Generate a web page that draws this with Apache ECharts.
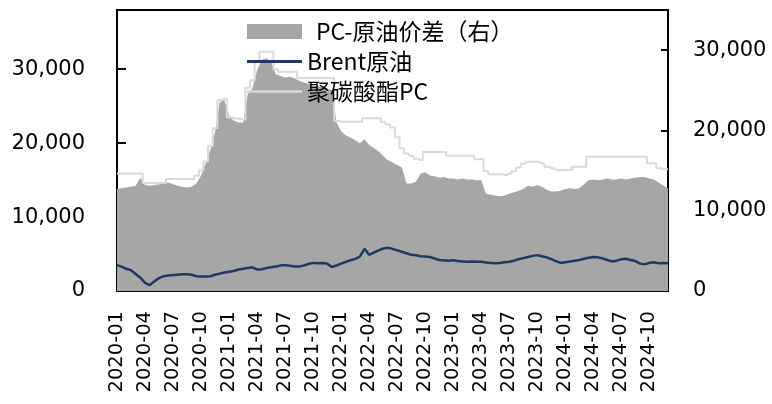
<!DOCTYPE html>
<html>
<head>
<meta charset="utf-8">
<script src="https://cdn.jsdelivr.net/npm/echarts@6/dist/echarts.min.js"></script>
<style>
  html, body { margin: 0; padding: 0; background: #fff; }
  #chart { width: 772px; height: 404px; }
</style>
</head>
<body>
<div id="chart"></div>
<script>
// Half-month sampling dates, 2020-01-01 .. 2024-12-01
const dates = [];
for (let y = 2020; y <= 2024; y++) {
  for (let m = 1; m <= 12; m++) {
    const mm = String(m).padStart(2, '0');
    if (y === 2024 && m === 12) { dates.push('2024-12-01'); break; }
    dates.push(`${y}-${mm}-01`, `${y}-${mm}-16`);
  }
}

// PC price spread over crude, yuan/t (right axis)
const spread = [
  12700,12800,12900,13000,13100,14100,13200,13100,13200,13300,
  13400,13500,13300,13100,12950,12900,13000,13400,14400,15900,
  17600,19800,23500,23800,21800,21200,21000,21000,24500,25300,
  27500,28800,29000,28600,27000,26800,26600,26700,26500,26200,
  26000,25800,25700,25500,25400,25200,25000,21000,19900,19400,
  19100,18800,18400,18900,18200,17800,17400,16800,16300,16000,
  15700,15400,13400,13400,13600,14600,14800,14400,14300,14100,
  14200,14000,14000,13900,14000,13900,13900,13800,13800,12100,
  12000,11900,11800,11900,12100,12300,12500,12700,13100,13000,
  13200,13000,12600,12400,12400,12500,12700,12800,12700,12800,
  13300,13800,13900,13800,13900,14000,13900,13900,14000,13900,
  14000,14100,14200,14200,14000,13900,13500,13100,12800
];

// Brent crude, yuan/t (left axis)
const brent = [
  3500,3300,3000,2800,2300,1800,1100,800,1300,1750,
  2000,2100,2150,2200,2250,2250,2200,2000,1950,1950,
  2000,2200,2350,2500,2600,2700,2900,3000,3100,3200,
  2900,2950,3100,3200,3300,3450,3500,3400,3300,3300,
  3450,3650,3800,3750,3800,3700,3250,3450,3700,3950,
  4150,4350,4650,5700,4900,5200,5500,5750,5850,5700,
  5500,5300,5100,4900,4850,4700,4650,4600,4400,4200,
  4150,4100,4150,4050,4000,3950,4000,3950,3950,3850,
  3800,3750,3800,3900,3950,4100,4300,4450,4600,4750,
  4850,4700,4550,4300,4050,3800,3900,4000,4100,4200,
  4350,4500,4600,4550,4400,4200,4000,4100,4300,4350,
  4200,4050,3700,3600,3800,3900,3750,3800,3750
];

// Polycarbonate (PC) price, yuan/t (left axis)
const pcPrice = [
  15900,15900,15900,15900,15900,15900,14600,14600,14600,14600,
  14600,15150,15150,15150,15150,15150,15150,15600,16300,17500,
  19600,22000,25800,26000,23500,23350,23300,23200,27500,28500,
  31000,32350,32350,32350,30000,29650,29650,29650,29650,28800,
  28800,28800,28800,28800,28800,28800,28800,23000,22900,22900,
  22900,22900,22900,23350,23350,23350,23350,22900,22500,22100,
  20800,19300,18600,18300,17900,17700,18800,18800,18800,18800,
  18800,18300,18300,18300,18300,18300,18300,17800,17800,16200,
  15800,15800,15800,15700,15900,16200,16700,17200,17480,17480,
  17480,17260,16800,16600,16360,16360,16360,16360,16800,16800,
  16800,18160,18160,18160,18160,18160,18160,18160,18160,18160,
  18160,18160,18160,18160,17260,17260,16600,16450,16450
];

const leftTicks = [0, 10000, 20000, 30000];
const rightTicks = [0, 10000, 20000, 30000];

const fmt = v => String(v).replace(/\B(?=(\d{3})+(?!\d))/g, ',');
const quarterTick = i => i % 6 === 0 && i < dates.length - 1;

const axisText = { fontSize: 21, fontFamily: 'DejaVu Sans', color: '#000' };
const blackLine = { color: '#000', width: 2 };

const chart = echarts.init(document.getElementById('chart'));
chart.setOption({
  animation: false,
  backgroundColor: '#fff',
  grid: {
    left: 117, right: 104, top: 10, bottom: 113,
    show: true, borderColor: '#000', borderWidth: 2, backgroundColor: 'transparent'
  },
  legend: {
    orient: 'vertical',
    left: 247, top: 20, padding: 0,
    itemGap: 7, itemWidth: 55, itemHeight: 15, itemTextGap: 5,
    selectedMode: false,
    textStyle: { fontSize: 23, fontFamily: 'Noto Sans CJK SC', color: '#000', lineHeight: 23 },
    data: [
      { name: 'PC-原油价差（右）', icon: 'rect',
        itemStyle: { color: '#A6A6A6', borderWidth: 0 },
        textStyle: { padding: [0, 0, 0, 9] } },
      { name: 'Brent原油', icon: 'path://M0,0H55V3H0Z',
        itemStyle: { color: '#1F3864', borderWidth: 0 } },
      { name: '聚碳酸酯PC', icon: 'path://M0,0H55V2.4H0Z',
        itemStyle: { color: '#D9D9D9', borderWidth: 0 } }
    ]
  },
  xAxis: {
    type: 'category',
    data: dates,
    boundaryGap: false,
    axisLine: { show: true, lineStyle: blackLine },
    axisTick: { show: true, inside: true, length: 7, interval: quarterTick, lineStyle: blackLine },
    axisLabel: {
      interval: quarterTick,
      rotate: 90,
      margin: 20,
      fontSize: 19.5,
      fontFamily: 'DejaVu Sans',
      color: '#000',
      formatter: v => v.slice(0, 7)
    },
    splitLine: { show: false }
  },
  yAxis: [
    {
      type: 'value', min: 0, max: 38000, position: 'left',
      axisLine: { show: true, lineStyle: blackLine },
      axisTick: { show: true, inside: true, length: 9, customValues: leftTicks, lineStyle: blackLine },
      axisLabel: Object.assign({ customValues: leftTicks, formatter: fmt, margin: 32 }, axisText),
      splitLine: { show: false }
    },
    {
      type: 'value', min: 0, max: 35000, position: 'right',
      axisLine: { show: true, lineStyle: blackLine },
      axisTick: { show: true, inside: true, length: 7, customValues: rightTicks, lineStyle: blackLine },
      axisLabel: Object.assign({ customValues: rightTicks, formatter: fmt, margin: 25 }, axisText),
      splitLine: { show: false }
    }
  ],
  series: [
    {
      name: 'PC-原油价差（右）', type: 'line', yAxisIndex: 1, data: spread,
      symbol: 'none', lineStyle: { width: 0 },
      areaStyle: { color: '#A6A6A6', opacity: 1 },
      itemStyle: { color: '#A6A6A6' }, z: 1
    },
    {
      name: '聚碳酸酯PC', type: 'line', yAxisIndex: 0, data: pcPrice,
      symbol: 'none', step: 'middle',
      lineStyle: { color: '#D9D9D9', width: 2 },
      itemStyle: { color: '#D9D9D9' }, z: 2
    },
    {
      name: 'Brent原油', type: 'line', yAxisIndex: 0, data: brent,
      symbol: 'none',
      lineStyle: { color: '#1F3864', width: 2.5 },
      itemStyle: { color: '#1F3864' }, z: 3
    }
  ]
});
</script>
</body>
</html>
